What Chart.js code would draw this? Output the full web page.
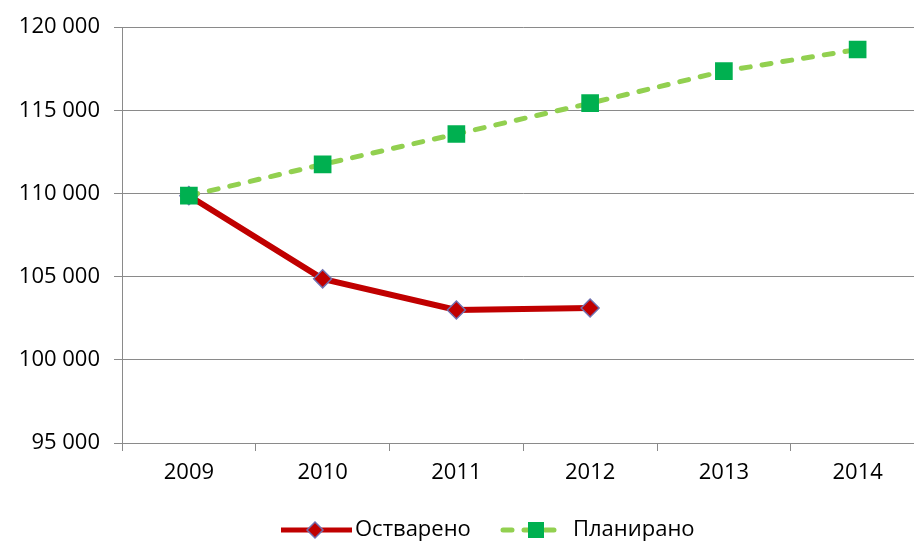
<!DOCTYPE html>
<html lang="sr">
<head>
    <meta charset="UTF-8">
    <title>Остварено / Планирано</title>
    <script src="https://cdn.jsdelivr.net/npm/chart.js"></script>
    <style>
        html, body { margin: 0; padding: 0; background: #fff; overflow: hidden; }
        .wrap { width: 937px; height: 542px; }
    </style>
</head>
<body>
    <div class="wrap"><canvas id="chart" width="937" height="542"></canvas></div>

    <script>
        // data
        const years = ['2009', '2010', '2011', '2012', '2013', '2014'];
        const ostvareno = [109870, 104870, 103000, 103120, null, null];
        const planirano = [109870, 111750, 113580, 115430, 117360, 118660];
        const yTicks = [95000, 100000, 105000, 110000, 115000, 120000];

        const FONT = '"Open Sans", "DejaVu Sans", sans-serif';
        const GRID = '#8a8a8a';
        const RED = '#c00000';
        const GREEN_LINE = '#92d050';
        const GREEN_MARK = '#00b050';

        const fmt = v => String(v).replace(/\B(?=(\d{3})+(?!\d))/g, ' ');

        // Excel-like legend: line + marker + label
        const legendPlugin = {
            id: 'excelLegend',
            afterDraw(chart) {
                const ctx = chart.ctx;
                const y = 530;
                ctx.save();
                // Остварено
                ctx.strokeStyle = RED;
                ctx.lineWidth = 5;
                ctx.beginPath(); ctx.moveTo(281, y); ctx.lineTo(352, y); ctx.stroke();
                ctx.fillStyle = RED;
                ctx.strokeStyle = '#7070b0';
                ctx.lineWidth = 1.5;
                ctx.beginPath();
                ctx.moveTo(315, y - 8); ctx.lineTo(323, y); ctx.lineTo(315, y + 8); ctx.lineTo(307, y);
                ctx.closePath(); ctx.fill(); ctx.stroke();
                // Планирано
                ctx.strokeStyle = GREEN_LINE;
                ctx.lineWidth = 5;
                ctx.lineCap = 'round';
                ctx.setLineDash([9, 12]);
                ctx.beginPath(); ctx.moveTo(503, y); ctx.lineTo(562, y); ctx.stroke();
                ctx.setLineDash([]);
                ctx.fillStyle = GREEN_MARK;
                ctx.fillRect(528, y - 8, 16, 16);
                // labels
                ctx.fillStyle = '#000';
                ctx.font = '22px ' + FONT;
                ctx.textBaseline = 'middle';
                ctx.textAlign = 'left';
                ctx.fillText('Остварено', 355, y);
                ctx.fillText('Планирано', 573, y);
                ctx.restore();
            }
        };

        new Chart(document.getElementById('chart'), {
            type: 'line',
            data: {
                labels: years,
                datasets: [
                    {
                        label: 'Остварено',
                        data: ostvareno,
                        order: 2,
                        borderColor: RED,
                        borderWidth: 6,
                        pointStyle: 'rectRot',
                        pointRadius: 9,
                        pointBackgroundColor: RED,
                        pointBorderColor: '#7070b0',
                        pointBorderWidth: 1.5,
                        tension: 0,
                        spanGaps: false
                    },
                    {
                        label: 'Планирано',
                        data: planirano,
                        order: 1,
                        borderColor: GREEN_LINE,
                        borderWidth: 5,
                        borderDash: [9, 12],
                        borderCapStyle: 'round',
                        pointStyle: 'rect',
                        pointRadius: 12.5,
                        pointBackgroundColor: GREEN_MARK,
                        pointBorderColor: GREEN_MARK,
                        pointBorderWidth: 0,
                        tension: 0
                    }
                ]
            },
            options: {
                responsive: false,
                animation: false,
                layout: { padding: { top: 26, right: 5, bottom: 0, left: 0 } },
                plugins: {
                    legend: { display: false },
                    tooltip: { enabled: false }
                },
                scales: {
                    x: {
                        offset: true,
                        grid: {
                            offset: true,
                            drawOnChartArea: false,
                            color: GRID,
                            tickLength: 8
                        },
                        border: { color: GRID, width: 1 },
                        ticks: {
                            color: '#000',
                            font: { family: FONT, size: 22 },
                            padding: 9
                        },
                        afterFit: s => { s.height = 99; }
                    },
                    y: {
                        min: 95000,
                        max: 120000,
                        afterBuildTicks: s => { s.ticks = yTicks.map(v => ({ value: v })); },
                        grid: { color: GRID, tickLength: 8 },
                        border: { color: GRID, width: 1 },
                        ticks: {
                            color: '#000',
                            font: { family: FONT, size: 22 },
                            padding: 14,
                            callback: v => fmt(v)
                        },
                        afterFit: s => { s.width = 122; }
                    }
                }
            },
            plugins: [legendPlugin]
        });
    </script>
</body>
</html>
